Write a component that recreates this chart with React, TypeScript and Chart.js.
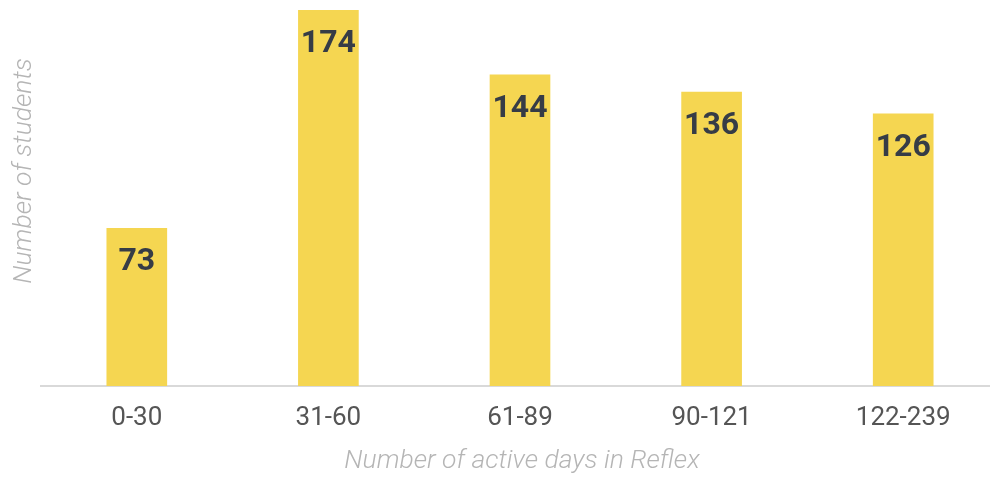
import React, { useEffect, useRef } from "react";
import { Chart, registerables } from "chart.js";

Chart.register(...registerables);

const categories = ["0-30", "31-60", "61-89", "90-121", "122-239"];
const students = [73, 174, 144, 136, 126];
const yTitle = "Number of students";
const xTitle = "Number of active days in Reflex";

const BAR_COLOR = "#F5D651";
const LABEL_COLOR = "#363C46";
const TICK_COLOR = "#555555";
const TITLE_COLOR = "#B5B5B5";
const AXIS_COLOR = "#D9D9D9";
const FONT = "Roboto";

const overlayPlugin = {
  id: "overlay",
  afterDatasetsDraw(chart: any) {
    const ctx = chart.ctx;
    const meta = chart.getDatasetMeta(0);
    ctx.save();
    ctx.fillStyle = LABEL_COLOR;
    ctx.font = `bold 32px ${FONT}`;
    ctx.textAlign = "center";
    ctx.textBaseline = "alphabetic";
    meta.data.forEach((el: any, i: number) => {
      ctx.fillText(String(students[i]), el.x, el.y + 42);
    });
    ctx.restore();
  },
  afterDraw(chart: any) {
    const ctx = chart.ctx;
    const area = chart.chartArea;
    ctx.save();
    ctx.fillStyle = TITLE_COLOR;
    ctx.font = `italic 300 26.5px ${FONT}`;
    ctx.textAlign = "center";
    ctx.textBaseline = "alphabetic";
    ctx.fillText(xTitle, (area.left + area.right) / 2 + 2, 468);
    ctx.translate(31, 171);
    ctx.rotate(-Math.PI / 2);
    ctx.fillText(yTitle, 0, 0);
    ctx.restore();
  },
};

export default function App() {
  const ref = useRef<HTMLCanvasElement>(null);
  useEffect(() => {
    if (!ref.current) return;
    const chart = new Chart(ref.current, {
      type: "bar",
      data: {
        labels: categories,
        datasets: [
          {
            data: students,
            backgroundColor: BAR_COLOR,
            borderWidth: 0,
            barThickness: 60,
          },
        ],
      },
      options: {
        animation: false,
        responsive: false,
        layout: { padding: { top: 10, left: 41, right: 1, bottom: 0 } },
        plugins: { legend: { display: false }, tooltip: { enabled: false } },
        scales: {
          x: {
            grid: { display: false, drawTicks: false },
            border: { display: true, color: AXIS_COLOR, width: 2 },
            ticks: {
              color: TICK_COLOR,
              font: { family: FONT, size: 26 },
              padding: 17,
            },
            afterFit(scale: any) {
              scale.height = 91;
            },
          },
          y: {
            display: false,
            min: 0,
            max: 174,
          },
        },
      },
      plugins: [overlayPlugin],
    });
    return () => chart.destroy();
  }, []);
  return (
    <div style={{ position: "fixed", left: 0, top: 0, width: 1000, height: 477 }}>
      <canvas ref={ref} width={1000} height={477} />
    </div>
  );
}
